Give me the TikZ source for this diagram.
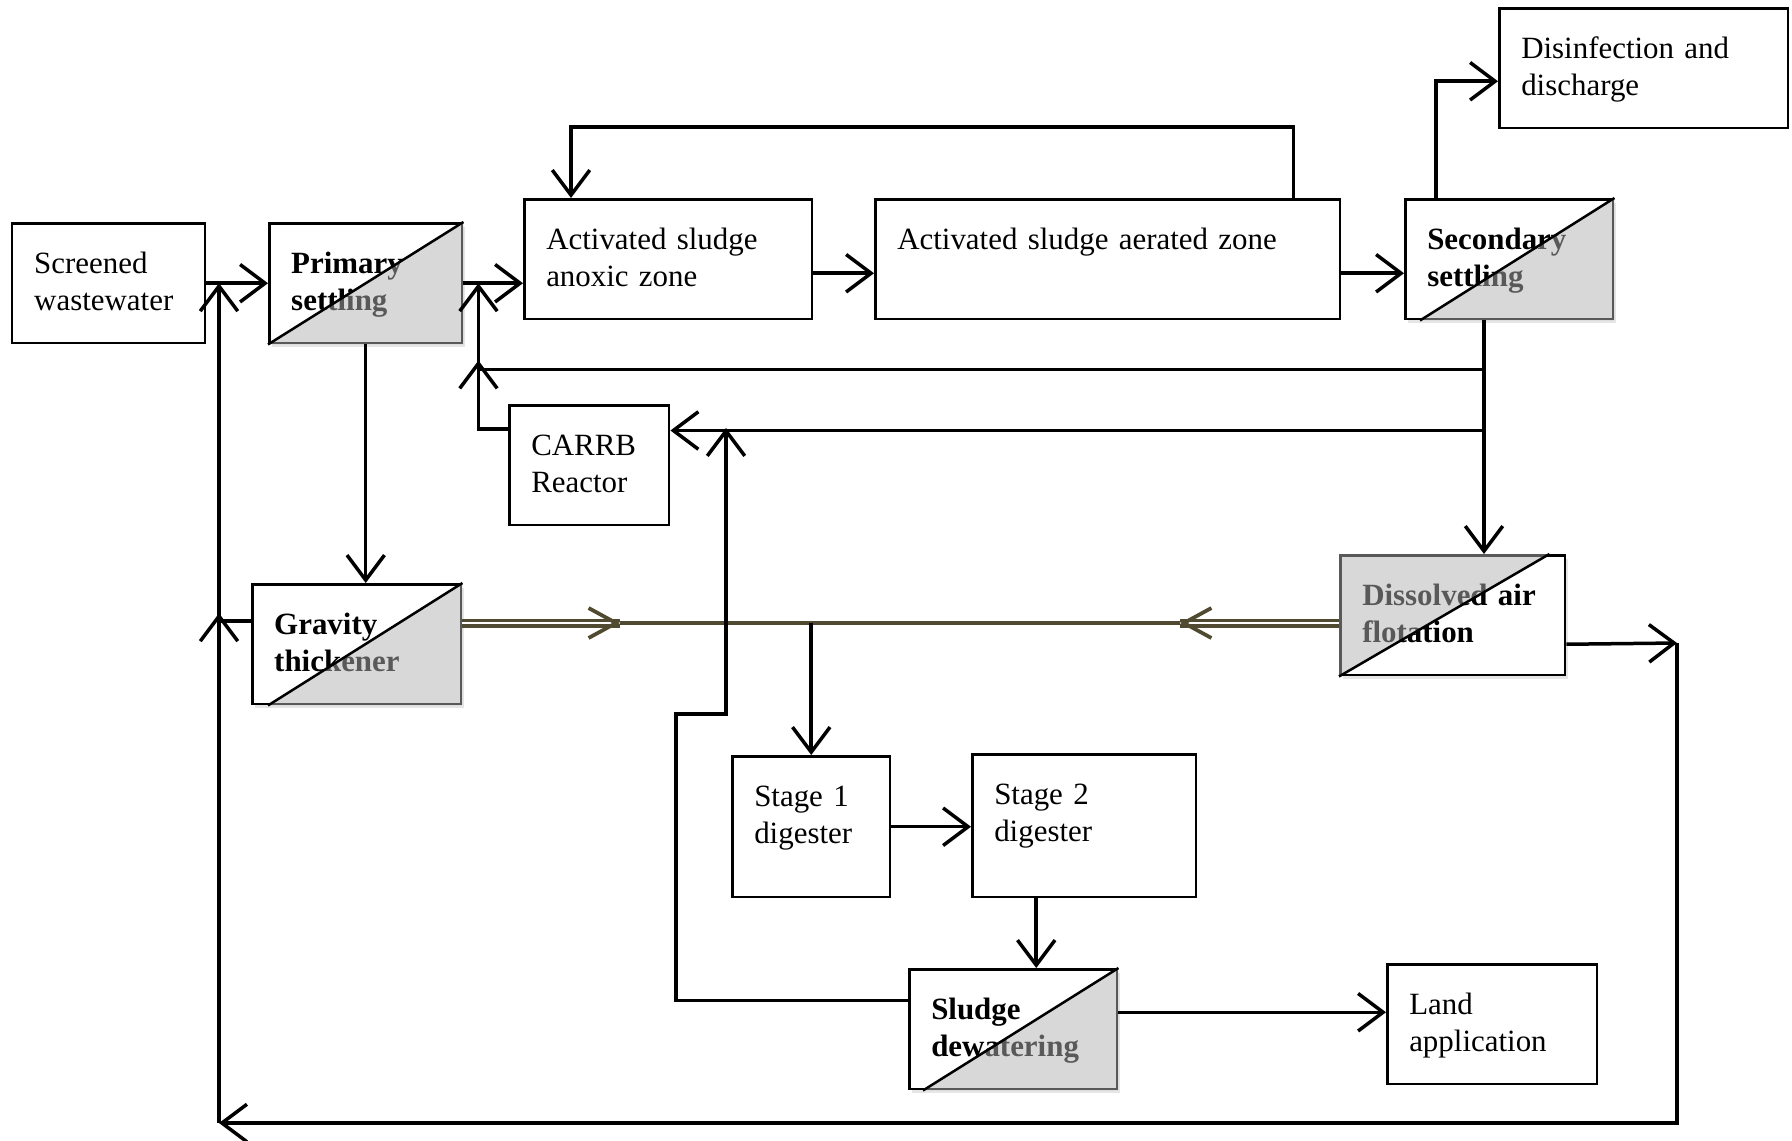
\documentclass[tikz,border=0pt]{standalone}
\usepackage{fontspec}
\setmainfont{Liberation Serif}
\usepackage{tikz}
\usetikzlibrary{arrows.meta,positioning,calc,shadows}
\definecolor{sludgeolive}{RGB}{80,75,48}
\definecolor{splitgray}{RGB}{178,178,178}

\begin{document}
\begin{tikzpicture}[x=0.02cm, y=-0.02cm, line width=0.07cm,
    >={Straight Barb[length=0.5cm,width=0.75cm]},
    every node/.style={font=\fontsize{17.6}{21.4}\selectfont},
    unit/.style={draw, line width=0.05cm, anchor=north west, fill=white,
      inner xsep=0.44cm, inner ysep=0pt, align=left,
      text height=1cm, text depth=1.4cm},
    split/.style={unit, font=\fontsize{17.6}{21.4}\selectfont\bfseries,
      drop shadow={shadow xshift=0.05cm, shadow yshift=-0.08cm, opacity=0.2}},
    halftone/.style={fill=splitgray, fill opacity=0.5},
    diag/.style={line width=0.05cm},
    sludge/.style={draw=sludgeolive, line width=0.075cm,
      >={Straight Barb[length=0.55cm,width=0.6cm]}},
    sludge double/.style={draw=sludgeolive, line width=0.065cm, double=white,
      double distance=0.05cm}
    ]
\useasboundingbox (0,0) rectangle (1792,1140);
% \draw[help lines, step=100] (0,0) grid (1792,1140);

% liquid line
\node[unit, text width=2.98cm] (scr) at (11,222)   {Screened\\wastewater};
\node[split, text width=2.98cm] (pri) at (268,222) {Primary\\settling};
\node[unit, text width=4.88cm] (anx) at (523,198)  {Activated sludge\\anoxic zone};
\node[unit, text width=8.42cm] (aer) at (874,198)  {Activated sludge aerated zone};
\node[split, text width=3.28cm] (sec) at (1404,198) {Secondary\\settling};
\node[unit, text width=4.90cm] (dis) at (1498,7)   {Disinfection and\\discharge};
\node[unit, text width=2.32cm] (crr) at (508,404)  {CARRB\\Reactor};

% solids line
\node[split, text width=3.30cm] (gth) at (251,583) {Gravity\\thickener};
\node[split, text width=3.62cm] (daf) at (1339,554) {Dissolved air\\flotation};
\node[unit, text width=2.28cm, text depth=1.82cm] (st1) at (731,755) {Stage 1\\digester};
\node[unit, text width=3.60cm, text depth=1.86cm] (st2) at (971,753) {Stage 2\\digester};
\node[split, text width=3.28cm] (dew) at (908,968) {Sludge\\dewatering};
\node[unit, text width=3.32cm] (lnd) at (1386,963) {Land\\application};

% shaded halves
\fill[halftone] (pri.south west) -- (pri.north east) -- (pri.south east) -- cycle;
\draw[diag] (pri.south west) -- (pri.north east);
\fill[halftone] ($(sec.south west)+(16,0)$) -- (sec.north east) -- (sec.south east) -- cycle;
\draw[diag] ($(sec.south west)+(16,0)$) -- (sec.north east);
\fill[halftone] ($(gth.south west)+(17,0)$) -- (gth.north east) -- (gth.south east) -- cycle;
\draw[diag] ($(gth.south west)+(17,0)$) -- (gth.north east);
\fill[halftone] ($(dew.south west)+(15,0)$) -- (dew.north east) -- (dew.south east) -- cycle;
\draw[diag] ($(dew.south west)+(15,0)$) -- (dew.north east);
\fill[halftone] (daf.south west) -- ($(daf.north east)+(-17,0)$) -- (daf.north west) -- cycle;
\draw[diag] (daf.south west) -- ($(daf.north east)+(-17,0)$);

% junctions and bends
\coordinate (sdn)  at ($(sec.south west)+(80,0)$);
\coordinate (rasj) at ($(sdn)+(0,49)$);
\coordinate (crbj) at ($(sdn)+(0,110)$);
\coordinate (rl)   at ($(pri.east)+(15,0)$);
\coordinate (cup)  at (726,428);
\coordinate (dwb)  at (676,714);
\coordinate (tl)   at (620,623);
\coordinate (tr)   at (1180,623);
\coordinate (jn)   at (st1.north |- tl);
\coordinate (s2d)  at ($(st2.south)+(-48,0)$);
\coordinate (dl)   at ($(dew.east)+(0,-17)$);
\coordinate (dr)   at (1677,643);
\coordinate (bl)   at (219,1123);

% thickened sludge
\draw[sludge] (gth.east |- tl) -- (daf.west |- tr);
\draw[sludge double] (gth.east |- tl) -- (tl);
\draw[sludge double] (daf.west |- tr) -- (tr);
\draw[sludge, ->] ($(tl)+(-3,0)$) -- (tl);
\draw[sludge, ->] ($(tr)+(3,0)$) -- (tr);
\draw[->] (jn) -- (st1.north);

\path[->]
 (scr) edge (pri)
 (pri.east) edge (pri.east -| anx.west)
 ($(anx.east)+(0,14)$) edge ($(aer.west)+(0,14)$)
 ($(aer.east)+(0,14)$) edge ($(sec.west)+(0,14)$)
 (pri.south) edge (pri.south |- gth.north)
 (sdn) edge (sdn |- daf.north)
 (crbj) edge (crbj -| crr.east)
 (st1.east) edge (st1.east -| st2.west)
 (s2d) edge (s2d |- dew.north)
 (dl) edge (dl -| lnd.west)
;
\draw[->] ($(aer.north east)+(-48,0)$) -- ++(0,-71) -| ($(anx.north west)+(48,0)$);
\draw[->] ($(sec.north west)+(32,0)$) |- ($(dis.west)+(0,13)$);
\draw (sec.south west -| sdn) -- (crbj);
\draw[->] (rasj) -| ($(rl |- rasj)+(0,-9)$);
\draw[->] ($(crr.west)+(0,-36)$) -| (rl);
\draw[->] ($(dew.west)+(0,-29)$) -| (dwb) -| (cup);

% return loop
\draw[->] ($(daf.east)+(0,29)$) -- (dr);
\draw[->] (dr) |- (bl);
\draw[->] (bl) -- (bl |- scr.east);
\draw[->] ($(gth.west)+(0,-23)$) -| ($(bl |- gth.west)+(0,-31)$);
\end{tikzpicture}
\end{document}
